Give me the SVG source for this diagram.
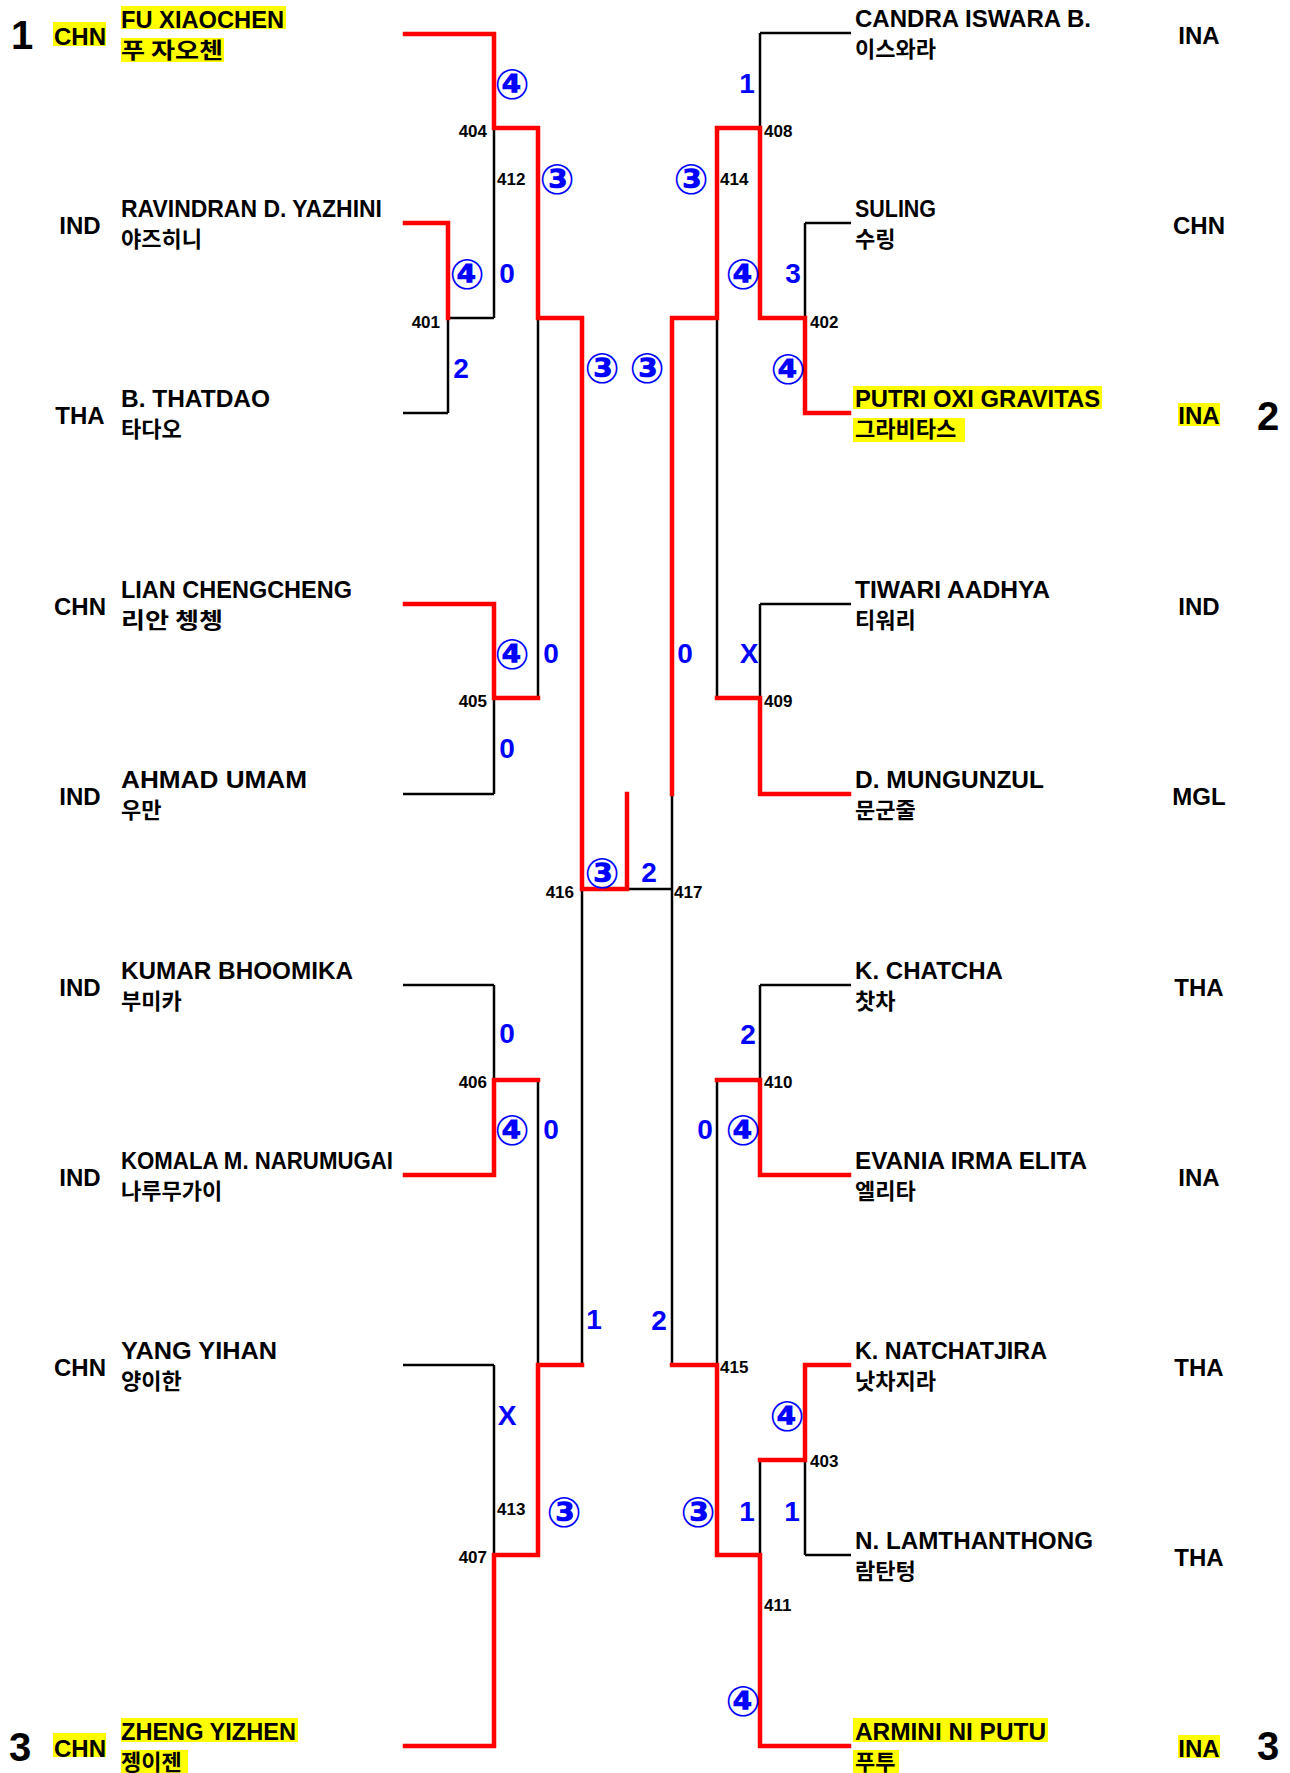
<svg xmlns="http://www.w3.org/2000/svg" width="1290" height="1773" viewBox="0 0 1290 1773">
<style>
.bg{fill:#fff}
.hl{fill:#ffff00}
.nm{font-family:"Liberation Sans","Noto Sans",sans-serif;font-weight:bold;font-size:24px;fill:#000}
.kr{font-family:"Noto Sans CJK KR","Noto Sans",sans-serif;font-weight:bold;font-size:22px;fill:#000}
.ct{font-family:"Liberation Sans","Noto Sans",sans-serif;font-weight:bold;font-size:24px;fill:#000;text-anchor:middle}
.sd{font-family:"Liberation Sans","Noto Sans",sans-serif;font-weight:bold;font-size:40px;fill:#000}
.jn{font-family:"Liberation Sans","Noto Sans",sans-serif;font-weight:bold;font-size:17px;fill:#000}
.jr{text-anchor:end}
.sc{font-family:"Liberation Sans","Noto Sans",sans-serif;font-weight:bold;font-size:28px;fill:#0000ff;text-anchor:middle}
.cc{font-family:"DejaVu Sans","Noto Sans CJK KR",sans-serif;font-weight:bold;font-size:42px;fill:#0000ff;text-anchor:middle}
.bk{fill:none;stroke:#000;stroke-width:2.5}
.rd{fill:none;stroke:#ff0000;stroke-width:4.5;stroke-linejoin:miter;stroke-linecap:square}
</style>
<rect class="bg" x="0" y="0" width="1290" height="1773"/>

<g id="connectors">
<g id="black-lines">
<path class="bk" d="M403,34H494 M403,223H448 M403,413H448 M403,604H494 M403,794H494 M403,985H494 M403,1175H494 M403,1365H494 M403,1746H494"/>
<path class="bk" d="M448,223V413 M448,318H494 M494,34V318 M494,128H538 M494,604V794 M494,698H538 M494,985V1175 M494,1080H538 M494,1365V1746 M494,1555H538 M538,128V698 M538,318H582 M538,1080V1555 M538,1365H582 M582,318V1365 M582,889H672"/>
<path class="bk" d="M851,33H760 M851,223H805 M851,413H805 M851,604H760 M851,794H760 M851,985H760 M851,1175H760 M851,1365H805 M851,1555H805 M851,1746H760"/>
<path class="bk" d="M805,223V413 M805,318H760 M760,33V318 M760,128H717 M760,604V794 M760,698H717 M760,985V1175 M760,1080H717 M805,1365V1555 M805,1460H760 M760,1460V1746 M760,1555H717 M717,128V698 M717,318H672 M717,1080V1555 M717,1365H672 M672,318V1365"/>
</g>
<g id="red-lines">
<path class="rd" d="M405,34H494V128H538V318H582V889H627V794"/>
<path class="rd" d="M405,223H448V318"/>
<path class="rd" d="M405,604H494V698H538"/>
<path class="rd" d="M405,1175H494V1080H538"/>
<path class="rd" d="M405,1746H494V1555H538V1365H582"/>
<path class="rd" d="M849,413H805V318H760V128H717V318H672V794"/>
<path class="rd" d="M849,794H760V698H717"/>
<path class="rd" d="M849,1175H760V1080H717"/>
<path class="rd" d="M849,1746H760V1555H717V1365H672"/>
<path class="rd" d="M849,1365H805V1460H760"/>
</g>
</g>

<g id="match-numbers">
<text class="jn jr" x="487" y="137">404</text>
<text class="jn" x="497" y="185">412</text>
<text class="jn jr" x="440" y="328">401</text>
<text class="jn jr" x="487" y="707">405</text>
<text class="jn jr" x="487" y="1088">406</text>
<text class="jn" x="497" y="1515">413</text>
<text class="jn jr" x="487" y="1563">407</text>
<text class="jn jr" x="574" y="898">416</text>
<text class="jn" x="674" y="898">417</text>
<text class="jn" x="764" y="137">408</text>
<text class="jn" x="720" y="185">414</text>
<text class="jn" x="810" y="328">402</text>
<text class="jn" x="764" y="707">409</text>
<text class="jn" x="764" y="1088">410</text>
<text class="jn" x="720" y="1373">415</text>
<text class="jn" x="810" y="1467">403</text>
<text class="jn" x="764" y="1611">411</text>
</g>

<g id="scores">
<text class="cc" x="512" y="99">④</text>
<text class="cc" x="557" y="194">③</text>
<text class="cc" x="467" y="289">④</text>
<text class="sc" x="507" y="283">0</text>
<text class="sc" x="461" y="378">2</text>
<text class="cc" x="602" y="383">③</text>
<text class="cc" x="647" y="383">③</text>
<text class="cc" x="512" y="669">④</text>
<text class="sc" x="551" y="663">0</text>
<text class="sc" x="507" y="758">0</text>
<text class="sc" x="507" y="1043">0</text>
<text class="cc" x="512" y="1145">④</text>
<text class="sc" x="551" y="1139">0</text>
<text class="sc" x="594" y="1329">1</text>
<text class="sc" x="507" y="1425">X</text>
<text class="cc" x="564" y="1527">③</text>
<text class="cc" x="602" y="888">③</text>
<text class="sc" x="649" y="882">2</text>
<text class="sc" x="747" y="93">1</text>
<text class="cc" x="691" y="194">③</text>
<text class="cc" x="743" y="289">④</text>
<text class="sc" x="793" y="283">3</text>
<text class="cc" x="788" y="384">④</text>
<text class="sc" x="685" y="663">0</text>
<text class="sc" x="749" y="663">X</text>
<text class="sc" x="748" y="1044">2</text>
<text class="sc" x="705" y="1139">0</text>
<text class="cc" x="743" y="1145">④</text>
<text class="sc" x="659" y="1330">2</text>
<text class="cc" x="787" y="1431">④</text>
<text class="cc" x="698" y="1527">③</text>
<text class="sc" x="747" y="1521">1</text>
<text class="sc" x="792" y="1521">1</text>
<text class="cc" x="743" y="1716">④</text>
</g>

<g id="p-fu-xiaochen">
<rect class="hl" x="121" y="6" width="165" height="23"/>
<rect class="hl" x="121" y="38" width="103" height="24"/>
<rect class="hl" x="53" y="22" width="53" height="24"/>
<text class="sd" x="11" y="49">1</text>
<text class="ct" x="80" y="45">CHN</text>
<text class="nm" x="121" y="28" textLength="163" lengthAdjust="spacingAndGlyphs">FU XIAOCHEN</text>
<text class="kr" x="121" y="58" textLength="102" lengthAdjust="spacingAndGlyphs">푸 자오첸</text>
</g>
<g id="p-ravindran">
<text class="ct" x="80" y="234">IND</text>
<text class="nm" x="121" y="217" textLength="261" lengthAdjust="spacingAndGlyphs">RAVINDRAN D. YAZHINI</text>
<text class="kr" x="121" y="247">야즈히니</text>
</g>
<g id="p-thatdao">
<text class="ct" x="80" y="424">THA</text>
<text class="nm" x="121" y="407" textLength="149" lengthAdjust="spacingAndGlyphs">B. THATDAO</text>
<text class="kr" x="121" y="437">타다오</text>
</g>
<g id="p-lian">
<text class="ct" x="80" y="615">CHN</text>
<text class="nm" x="121" y="598" textLength="231" lengthAdjust="spacingAndGlyphs">LIAN CHENGCHENG</text>
<text class="kr" x="121" y="628" textLength="102" lengthAdjust="spacingAndGlyphs">리안 쳉쳉</text>
</g>
<g id="p-ahmad">
<text class="ct" x="80" y="805">IND</text>
<text class="nm" x="121" y="788" textLength="186" lengthAdjust="spacingAndGlyphs">AHMAD UMAM</text>
<text class="kr" x="121" y="818">우만</text>
</g>
<g id="p-kumar">
<text class="ct" x="80" y="996">IND</text>
<text class="nm" x="121" y="979" textLength="232" lengthAdjust="spacingAndGlyphs">KUMAR BHOOMIKA</text>
<text class="kr" x="121" y="1009">부미카</text>
</g>
<g id="p-komala">
<text class="ct" x="80" y="1186">IND</text>
<text class="nm" x="121" y="1169" textLength="272" lengthAdjust="spacingAndGlyphs">KOMALA M. NARUMUGAI</text>
<text class="kr" x="121" y="1199">나루무가이</text>
</g>
<g id="p-yang">
<text class="ct" x="80" y="1376">CHN</text>
<text class="nm" x="121" y="1359" textLength="156" lengthAdjust="spacingAndGlyphs">YANG YIHAN</text>
<text class="kr" x="121" y="1389">양이한</text>
</g>
<g id="p-zheng">
<rect class="hl" x="121" y="1718" width="177" height="24"/>
<rect class="hl" x="121" y="1750" width="67" height="23"/>
<rect class="hl" x="53" y="1733" width="53" height="24"/>
<text class="sd" x="9" y="1761">3</text>
<text class="ct" x="80" y="1757">CHN</text>
<text class="nm" x="121" y="1740" textLength="175" lengthAdjust="spacingAndGlyphs">ZHENG YIZHEN</text>
<text class="kr" x="121" y="1770">젱이젠</text>
</g>

<g id="p-candra">
<text class="ct" x="1199" y="44">INA</text>
<text class="nm" x="855" y="27" textLength="236" lengthAdjust="spacingAndGlyphs">CANDRA ISWARA B.</text>
<text class="kr" x="855" y="57">이스와라</text>
</g>
<g id="p-suling">
<text class="ct" x="1199" y="234">CHN</text>
<text class="nm" x="855" y="217" textLength="81" lengthAdjust="spacingAndGlyphs">SULING</text>
<text class="kr" x="855" y="247">수링</text>
</g>
<g id="p-putri">
<rect class="hl" x="853" y="386" width="249" height="23"/>
<rect class="hl" x="853" y="418" width="112" height="24"/>
<rect class="hl" x="1178" y="403" width="42" height="23"/>
<text class="sd" x="1257" y="430">2</text>
<text class="ct" x="1199" y="424">INA</text>
<text class="nm" x="855" y="407" textLength="245" lengthAdjust="spacingAndGlyphs">PUTRI OXI GRAVITAS</text>
<text class="kr" x="855" y="437">그라비타스</text>
</g>
<g id="p-tiwari">
<text class="ct" x="1199" y="615">IND</text>
<text class="nm" x="855" y="598" textLength="195" lengthAdjust="spacingAndGlyphs">TIWARI AADHYA</text>
<text class="kr" x="855" y="628">티워리</text>
</g>
<g id="p-mungunzul">
<text class="ct" x="1199" y="805">MGL</text>
<text class="nm" x="855" y="788" textLength="189" lengthAdjust="spacingAndGlyphs">D. MUNGUNZUL</text>
<text class="kr" x="855" y="818">문군줄</text>
</g>
<g id="p-chatcha">
<text class="ct" x="1199" y="996">THA</text>
<text class="nm" x="855" y="979" textLength="148" lengthAdjust="spacingAndGlyphs">K. CHATCHA</text>
<text class="kr" x="855" y="1009">찻차</text>
</g>
<g id="p-evania">
<text class="ct" x="1199" y="1186">INA</text>
<text class="nm" x="855" y="1169" textLength="232" lengthAdjust="spacingAndGlyphs">EVANIA IRMA ELITA</text>
<text class="kr" x="855" y="1199">엘리타</text>
</g>
<g id="p-natchatjira">
<text class="ct" x="1199" y="1376">THA</text>
<text class="nm" x="855" y="1359" textLength="192" lengthAdjust="spacingAndGlyphs">K. NATCHATJIRA</text>
<text class="kr" x="855" y="1389">낫차지라</text>
</g>
<g id="p-lamthanthong">
<text class="ct" x="1199" y="1566">THA</text>
<text class="nm" x="855" y="1549" textLength="238" lengthAdjust="spacingAndGlyphs">N. LAMTHANTHONG</text>
<text class="kr" x="855" y="1579">람탄텅</text>
</g>
<g id="p-armini">
<rect class="hl" x="853" y="1718" width="195" height="24"/>
<rect class="hl" x="853" y="1750" width="46" height="23"/>
<rect class="hl" x="1178" y="1735" width="42" height="23"/>
<text class="sd" x="1257" y="1760">3</text>
<text class="ct" x="1199" y="1757">INA</text>
<text class="nm" x="855" y="1740" textLength="191" lengthAdjust="spacingAndGlyphs">ARMINI NI PUTU</text>
<text class="kr" x="855" y="1770">푸투</text>
</g>
</svg>
